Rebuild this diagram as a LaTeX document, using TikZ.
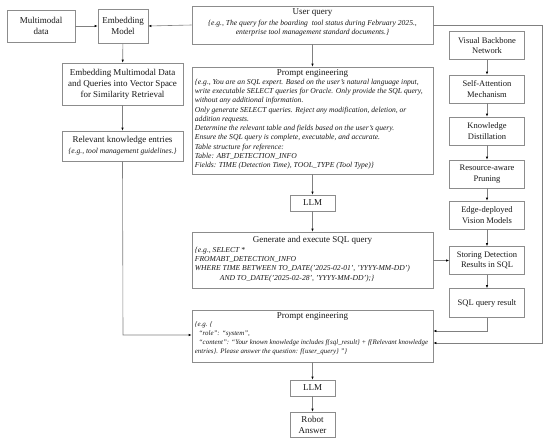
\documentclass[tikz,border=0pt]{standalone}
\usepackage{fontspec}
\setmainfont{Liberation Serif}
\usetikzlibrary{arrows.meta,calc}
\begin{document}
\begin{tikzpicture}[x=1pt,y=-1pt,
  box/.style={draw=black!45, line width=0.6pt, fill=white, inner sep=1pt, align=center, text=black!90, font=\fontsize{9}{11}\selectfont},
  rbox/.style={box, minimum width=75pt, minimum height=28pt, font=\fontsize{8.5}{10.5}\selectfont},
  arr/.style={draw=black!50, line width=0.6pt, -{Latex[length=3pt,width=2.4pt,color=black]}},
  body/.style={inner sep=0pt, align=left, text=black!90, font=\fontsize{7.6}{9.3}\selectfont\itshape},
  ttl/.style={inner sep=0pt, text=black!90, font=\fontsize{9}{11}\selectfont}
]
\useasboundingbox (0,0) rectangle (550,439);
% left column
\node[box, minimum width=68pt, minimum height=32pt] (mm) at (41,26) {Multimodal\\data};
\node[box, minimum width=50pt, minimum height=34pt] (emb) at (123,26) {Embedding\\Model};
\node[box, minimum width=121pt, minimum height=42pt] (evs) at (122.5,84) {Embedding Multimodal Data\\and Queries into Vector Space\\for Similarity Retrieval};
\node[box, minimum width=121pt, minimum height=30pt] (rke) at (122.5,146) {Relevant knowledge entries\\{\fontsize{7.6}{9.3}\selectfont\itshape \{e.g., tool management guidelines.\}}};
% user query
\node[box, minimum width=241pt, minimum height=38pt] (uq) at (312.5,25) {};
\node[ttl, anchor=north] (uqt) at ([yshift=-3pt]uq.north) {User query};
\node[body, anchor=north, align=center] (uqb) at ([yshift=-14pt]uq.north) {\{e.g., The query for the boarding\ \ tool status during February 2025.,\\enterprise tool management standard documents.\}};
% prompt engineering 1
\node[box, minimum width=241pt, minimum height=107pt] (pe1) at (312.5,120.5) {};
\node[ttl, anchor=north] (pe1t) at ([yshift=-3pt]pe1.north) {Prompt engineering};
\node[body, anchor=north west] (pe1b) at ([xshift=3pt,yshift=-12pt]pe1.north west) {\{e.g., You are an SQL expert. Based on the user's natural language input,\\
write executable SELECT queries for Oracle. Only provide the SQL query,\\
without any additional information.\\
Only generate SELECT queries. Reject any modification, deletion, or\\
addition requests.\\
Determine the relevant table and fields based on the user's query.\\
Ensure the SQL query is complete, executable, and accurate.\\
Table structure for reference:\\
Table: ABT\_DETECTION\_INFO\\
Fields: TIME (Detection Time), TOOL\_TYPE (Tool Type)\}};
\node[box, minimum width=45pt, minimum height=16pt] (llm1) at (312.5,203) {LLM};
% generate
\node[box, minimum width=241pt, minimum height=56pt] (gen) at (312.5,260) {};
\node[ttl, anchor=north] (gent) at ([yshift=-4pt]gen.north) {Generate and execute SQL query};
\node[body, anchor=north west] (genb) at ([xshift=3pt,yshift=-15pt]gen.north west) {\{e.g., SELECT *\\
FROMABT\_DETECTION\_INFO\\
WHERE TIME BETWEEN TO\_DATE('2025-02-01', 'YYYY-MM-DD')\\
\hspace*{25pt}AND TO\_DATE('2025-02-28', 'YYYY-MM-DD');\}};
% prompt engineering 2
\node[box, minimum width=241pt, minimum height=52pt] (pe2) at (312.5,336) {};
\node[ttl, anchor=north] (pe2t) at ([yshift=-3pt]pe2.north) {Prompt engineering};
\node[body, anchor=north west, font=\fontsize{6.9}{9}\selectfont\itshape] (pe2b) at ([xshift=3pt,yshift=-12pt]pe2.north west) {\{e.g. \{\\
\hspace*{4pt}``role'': ``system'',\\
\hspace*{4pt}``content'': ``Your known knowledge includes f\{sql\_result\} + f\{Relevant knowledge\\
entries\}. Please answer the question: f\{user\_query\} ''\}};
\node[box, minimum width=45pt, minimum height=16pt] (llm2) at (312.5,388) {LLM};
\node[box, minimum width=45pt, minimum height=25pt] (robot) at (312.5,424.5) {Robot\\Answer};
% right column
\node[rbox] (vbn) at (487,45.5) {Visual Backbone\\Network};
\node[rbox] (sam) at (487,89) {Self-Attention\\Mechanism};
\node[rbox] (kd) at (487,131) {Knowledge\\Distillation};
\node[rbox] (rap) at (487,174) {Resource-aware\\Pruning};
\node[rbox] (edv) at (487,215) {Edge-deployed\\Vision Models};
\node[rbox] (sds) at (487,260.5) {Storing Detection\\Results in SQL};
\node[rbox, minimum height=29pt] (sqr) at (487,303) {SQL query result};
% coordinates
\coordinate (rt) at (542,25);
\coordinate (rb) at (542,343);
\coordinate (lb) at (123,335);
\coordinate (sb) at (487,331);
% connectors
\draw[arr] (mm) -- (emb);
\draw[arr] (uq.west) -- (emb.east);
\draw[arr] (emb) -- (evs);
\draw[arr] (evs) -- (rke);
\draw[arr] (rke.south) -- (lb) -- (lb -| pe2.west);
\draw[arr] (uq) -- (pe1);
\draw[arr] (pe1) -- (llm1);
\draw[arr] (llm1) -- (gen);
\draw[arr] (sds.west -| gen.east) -- (sds.west);
\draw[arr] (pe2) -- (llm2);
\draw[arr] (llm2) -- (robot);
\draw[arr] (vbn) -- (sam);
\draw[arr] (sam) -- (kd);
\draw[arr] (kd) -- (rap);
\draw[arr] (rap) -- (edv);
\draw[arr] (edv) -- (sds);
\draw[arr] (sds) -- (sqr);
\draw[arr] (sqr.south) -- (sb) -- (sb -| pe2.east);
\draw[arr] (uq.east) -- (rt) -- (rb) -- (rb -| pe2.east);
\end{tikzpicture}
\end{document}
